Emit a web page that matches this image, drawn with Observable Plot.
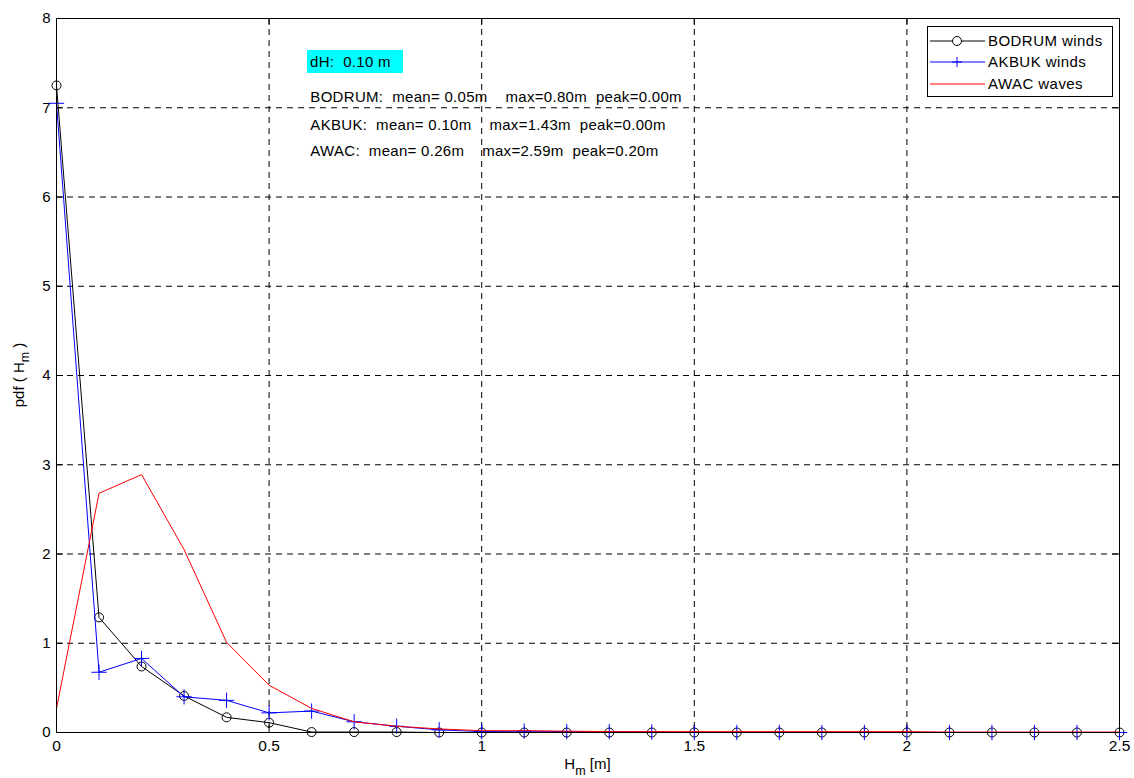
<!DOCTYPE html>
<html><head><meta charset="utf-8">
<script src="https://cdn.jsdelivr.net/npm/d3@7"></script>
<script src="https://cdn.jsdelivr.net/npm/@observablehq/plot@0.6"></script>
<style>
body{margin:0;background:#fff;}
#wrap{position:relative;width:1134px;height:778px;font-family:"Liberation Sans",Arial,sans-serif;color:#000;}
.ov{position:absolute;}
#dh{left:307px;top:50px;width:96px;height:23px;background:#00ffff;font-size:15px;letter-spacing:0.3px;line-height:23px;box-sizing:border-box;padding-left:3px;white-space:pre;}
#legend{left:927px;top:26px;width:186px;height:71px;border:1px solid #000;background:#fff;box-sizing:border-box;}
.row{position:absolute;left:0;height:20px;width:184px;}
.row svg{position:absolute;left:2px;top:0;}
.row span{position:absolute;left:60px;top:1px;font-size:15px;letter-spacing:0.45px;line-height:18px;white-space:nowrap;}
</style>
</head><body><div id="wrap"></div>
<script>
const hm = [0,0.1,0.2,0.3,0.4,0.5,0.6,0.7,0.8,0.9,1.0,1.1,1.2,1.3,1.4,1.5,1.6,1.7,1.8,1.9,2.0,2.1,2.2,2.3,2.4,2.5];
const bodrum = [7.25,1.29,0.74,0.41,0.17,0.11,0.005,0.005,0.005,0,0,0,0,0,0,0,0,0,0,0,0,0,0,0,0,0];
const akbuk  = [7.05,0.675,0.83,0.40,0.36,0.22,0.24,0.12,0.07,0.03,0.01,0.015,0.01,0.01,0.005,0,0,0,0,0,0,0,0,0,0,0];
const awac   = [0.27,2.68,2.89,2.05,1.01,0.53,0.27,0.12,0.07,0.04,0.02,0.02,0.015,0.01,0.01,0.01,0.01,0.01,0.01,0.01,0.01,0.005,0.005,0.005,0.005,0.005];
const xTicks = [0,0.5,1,1.5,2,2.5];
const xTickLabels = ["0","0.5","1","1.5","2","2.5"];
const yTicks = [0,1,2,3,4,5,6,7,8];
const statLines = [
  "BODRUM:  mean= 0.05m    max=0.80m  peak=0.00m",
  "AKBUK:  mean= 0.10m    max=1.43m  peak=0.00m",
  "AWAC:  mean= 0.26m    max=2.59m  peak=0.20m"
];
const statY = [7.115, 6.81, 6.51];
const statX = 0.597;
const seriesNames = ["BODRUM winds","AKBUK winds","AWAC waves"];
const seriesColors = ["#000000","#0000ff","#ff0000"];

const rows = (vals) => hm.map((x,i)=>({x, y: vals[i]}));
const W=1134,H=778,mL=56,mR=15,mT=18,mB=46;
const pw=W-mL-mR, ph=H-mT-mB, tk=7;
const dash = "6,5";

const chart = Plot.plot({
  width:W, height:H,
  marginLeft:mL, marginRight:mR, marginTop:mT, marginBottom:mB,
  style:{fontFamily:"'Liberation Sans', Arial, sans-serif", fontSize:"15px", color:"#000", background:"#fff", overflow:"visible"},
  x:{domain:[0,2.5], axis:null},
  y:{domain:[0,8], axis:null},
  marks:[
    Plot.ruleX(xTicks.slice(1,-1), {stroke:"#000", strokeWidth:1, strokeDasharray:dash}),
    Plot.ruleY(yTicks.slice(1,-1), {stroke:"#000", strokeWidth:1, strokeDasharray:dash}),
    Plot.ruleX(xTicks, {stroke:"#000", insetTop: ph-tk}),
    Plot.ruleX(xTicks, {stroke:"#000", insetBottom: ph-tk}),
    Plot.ruleY(yTicks, {stroke:"#000", insetRight: pw-tk}),
    Plot.ruleY(yTicks, {stroke:"#000", insetLeft: pw-tk}),
    Plot.text(xTicks, {x:d=>d, text:(d,i)=>xTickLabels[i], frameAnchor:"bottom", lineAnchor:"top", dy:7, fontSize:15.5, fill:"#000"}),
    Plot.text(yTicks, {y:d=>d, text:d=>String(d), frameAnchor:"left", textAnchor:"end", dx:-6, fontSize:15, fill:"#000"}),
    Plot.line(rows(bodrum), {x:"x", y:"y", stroke:seriesColors[0], strokeWidth:1, strokeLinejoin:"miter"}),
    Plot.dot(rows(bodrum), {x:"x", y:"y", r:4.5, stroke:seriesColors[0], fill:"none", strokeWidth:1}),
    Plot.line(rows(akbuk), {x:"x", y:"y", stroke:seriesColors[1], strokeWidth:1, strokeLinejoin:"miter"}),
    Plot.dot(rows(akbuk), {x:"x", y:"y", r:5, symbol:"plus", stroke:seriesColors[1], strokeWidth:1}),
    Plot.line(rows(awac), {x:"x", y:"y", stroke:seriesColors[2], strokeWidth:1, strokeLinejoin:"miter"}),
    Plot.text(statLines, {x:()=>statX, y:(d,i)=>statY[i], text:d=>d, textAnchor:"start", fontSize:15, fill:"#000"}),
    Plot.frame({stroke:"#000", strokeWidth:1})
  ]
});
const wrap = document.getElementById("wrap");
wrap.appendChild(chart);

const svg = d3.select(chart);
// stat text letter spacing
svg.selectAll("text").filter(function(){ return statLines.includes(this.textContent); }).attr("letter-spacing","0.3px");
// x label with subscript
const xl = svg.append("text").attr("x", mL+pw/2).attr("y", 769).attr("text-anchor","middle")
  .attr("font-size",15).attr("fill","#000");
xl.append("tspan").text("H");
xl.append("tspan").attr("font-size",12.5).attr("dy",6).text("m");
xl.append("tspan").attr("dy",-6).text(" [m]");
// y label
const yl = svg.append("text").attr("transform",`translate(24,${mT+ph/2}) rotate(-90)`).attr("text-anchor","middle")
  .attr("font-size",15).attr("fill","#000");
yl.append("tspan").text("pdf ( H");
yl.append("tspan").attr("font-size",12.5).attr("dy",5).text("m");
yl.append("tspan").attr("dy",-5).text(" )");

// dH label
const dh = document.createElement("div");
dh.className="ov"; dh.id="dh"; dh.textContent="dH:  0.10 m";
wrap.appendChild(dh);

// legend
const lg = document.createElement("div");
lg.className="ov"; lg.id="legend";
const rowTops=[4,25,47];
seriesNames.forEach((name,i)=>{
  const r=document.createElement("div"); r.className="row"; r.style.top=rowTops[i]+"px";
  let marker="";
  if(i===0) marker=`<circle cx="27" cy="10" r="4.5" fill="#fff" stroke="#000"/>`;
  if(i===1) marker=`<path d="M22,10H32M27,5V15" stroke="#0000ff"/>`;
  r.innerHTML=`<svg width="56" height="20"><line x1="0" x2="55" y1="10" y2="10" stroke="${seriesColors[i]}"/>${marker}</svg><span>${name}</span>`;
  lg.appendChild(r);
});
wrap.appendChild(lg);
</script></body></html>
